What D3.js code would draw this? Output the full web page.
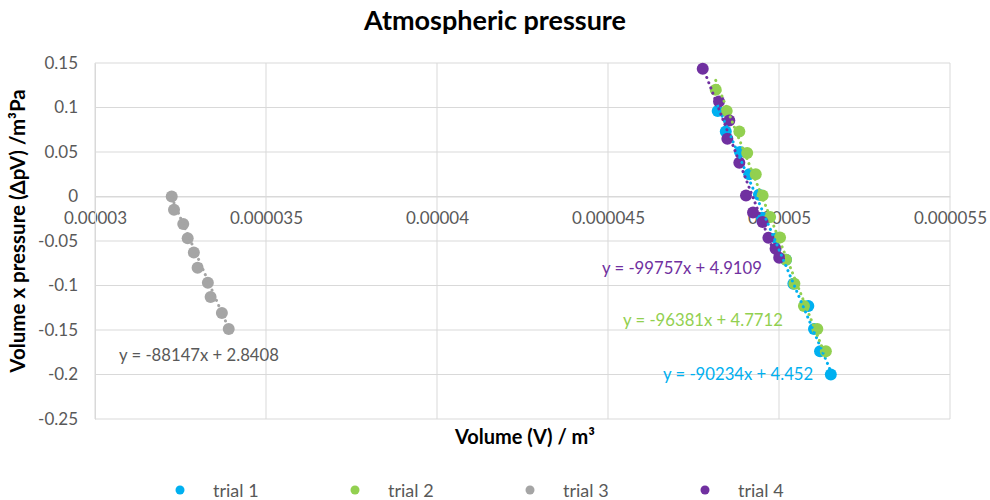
<!DOCTYPE html>
<html>
<head>
<meta charset="utf-8">
<script src="https://cdn.jsdelivr.net/npm/d3@7"></script>
<style>
  body { margin: 0; background: #fff; }
  svg { font-family: Lato, "Open Sans", sans-serif; }
</style>
</head>
<body>
<div id="box"></div>
<script>
// series names and colours
var seriesNames = ["trial 1", "trial 2", "trial 3", "trial 4"];
var seriesColors = ["#00B0F0", "#92D050", "#A5A5A5", "#7030A0"];

// volume (m^3) and volume x pressure values
var trial1X = [4.8208e-5, 4.8444e-5, 4.886e-5, 4.913e-5, 4.9415e-5, 4.9503e-5, 4.993e-5, 5.0205e-5, 5.042e-5, 5.0857e-5, 5.1023e-5, 5.120e-5, 5.1515e-5];
var trial1Y = [0.096, 0.073, 0.050, 0.025, 0.002, -0.024, -0.047, -0.071, -0.098, -0.123, -0.149, -0.174, -0.200];
var trial2X = [4.815e-5, 4.847e-5, 4.884e-5, 4.907e-5, 4.932e-5, 4.952e-5, 4.974e-5, 5.003e-5, 5.0205e-5, 5.045e-5, 5.073e-5, 5.112e-5, 5.137e-5];
var trial2Y = [0.120, 0.096, 0.073, 0.049, 0.025, 0.001, -0.023, -0.046, -0.071, -0.098, -0.123, -0.149, -0.174];
var trial3X = [3.2243e-5, 3.231e-5, 3.258e-5, 3.271e-5, 3.289e-5, 3.300e-5, 3.330e-5, 3.338e-5, 3.371e-5, 3.391e-5];
var trial3Y = [0.000, -0.015, -0.031, -0.047, -0.063, -0.080, -0.097, -0.113, -0.131, -0.149];
var trial4X = [4.777e-5, 4.8246e-5, 4.8547e-5, 4.849e-5, 4.884e-5, 4.9035e-5, 4.924e-5, 4.952e-5, 4.969e-5, 4.990e-5, 5.0006e-5];
var trial4Y = [0.1435, 0.1067, 0.0854, 0.0648, 0.0379, 0.001, -0.018, -0.0287, -0.0464, -0.0588, -0.0689];

// linear trendlines shown on the chart
var trendSlope = [-90234, -96381, -88147, -99757];
var trendIntercept = [4.452, 4.7712, 2.8408, 4.9109];
var trendText = ["y = -90234x + 4.452", "y = -96381x + 4.7712", "y = -88147x + 2.8408", "y = -99757x + 4.9109"];

// axis ticks
var xTicks = [3e-5, 3.5e-5, 4e-5, 4.5e-5, 5e-5, 5.5e-5];
var yTicks = [0.15, 0.1, 0.05, 0, -0.05, -0.1, -0.15, -0.2, -0.25];

var allX = [trial1X, trial2X, trial3X, trial4X];
var allY = [trial1Y, trial2Y, trial3Y, trial4Y];

var width = 990, height = 500;
var svg = d3.select("#box").append("svg")
    .attr("width", width)
    .attr("height", height);

var x = d3.scaleLinear().domain([3e-5, 5.5e-5]).range([95, 950]);
var y = d3.scaleLinear().domain([-0.25, 0.15]).range([419, 63]);

//Gridlines
svg.append("g").selectAll("line").data(yTicks).enter().append("line")
    .attr("x1", x.range()[0]).attr("x2", x.range()[1])
    .attr("y1", function(d){ return y(d); }).attr("y2", function(d){ return y(d); })
    .style("stroke", "#D9D9D9").style("stroke-width", 1);
svg.append("g").selectAll("line").data(xTicks).enter().append("line")
    .attr("x1", function(d){ return x(d); }).attr("x2", function(d){ return x(d); })
    .attr("y1", y.range()[0]).attr("y2", y.range()[1])
    .style("stroke", "#D9D9D9").style("stroke-width", 1);

//Axes
var xAxis = svg.append("g")
    .attr("transform", "translate(0," + y(0) + ")")
    .call(d3.axisBottom(x).tickValues(xTicks).tickSize(0).tickPadding(15)
        .tickFormat(function(d){ return String(parseFloat(d.toFixed(6))); }));
var yAxis = svg.append("g")
    .attr("transform", "translate(" + x.range()[0] + ",0)")
    .call(d3.axisLeft(y).tickValues(yTicks).tickSize(0).tickPadding(17)
        .tickFormat(function(d){ return String(parseFloat(d.toFixed(2))); }));
[xAxis, yAxis].forEach(function(a){
    a.select(".domain").style("stroke", "#D9D9D9");
    a.selectAll("text").style("font-family", "Lato, sans-serif")
        .style("font-size", "17px").style("fill", "#595959");
});

//Markers
seriesNames.forEach(function(name, i){
    svg.append("g").selectAll("circle").data(d3.range(allX[i].length)).enter().append("circle")
        .attr("cx", function(j){ return x(allX[i][j]); })
        .attr("cy", function(j){ return y(allY[i][j]); })
        .attr("r", 6)
        .style("fill", seriesColors[i]);
});

//Trendlines across each series' x range
seriesNames.forEach(function(name, i){
    var ext = d3.extent(allX[i]);
    svg.append("line")
        .attr("x1", x(ext[0])).attr("y1", y(trendSlope[i] * ext[0] + trendIntercept[i]))
        .attr("x2", x(ext[1])).attr("y2", y(trendSlope[i] * ext[1] + trendIntercept[i]))
        .style("stroke", seriesColors[i])
        .style("stroke-width", 3)
        .style("stroke-linecap", "round")
        .style("stroke-dasharray", "0.1 5.5");
});

//Trendline equations
var labelPos = [[663, 380], [623, 326], [119, 361], [602, 274]];
seriesNames.forEach(function(name, i){
    svg.append("text")
        .attr("x", labelPos[i][0]).attr("y", labelPos[i][1])
        .style("font-size", "16.7px")
        .style("fill", i == 2 ? "#595959" : seriesColors[i])
        .text(trendText[i]);
});

//Titles
svg.append("text")
    .attr("x", 495).attr("y", 30)
    .attr("text-anchor", "middle")
    .style("font-size", "27px").style("font-weight", "bold").style("fill", "#000")
    .text("Atmospheric pressure");
svg.append("text")
    .attr("x", 525).attr("y", 444)
    .attr("text-anchor", "middle")
    .style("font-size", "20px").style("font-weight", "bold").style("fill", "#000")
    .text("Volume (V) / m³");
svg.append("text")
    .attr("transform", "translate(25,231) rotate(-90)")
    .attr("text-anchor", "middle")
    .style("font-size", "20.5px").style("font-weight", "bold").style("fill", "#000")
    .text("Volume x pressure (ΔpV) /m³Pa");

//Legend
var legend = svg.append("g").selectAll("g").data(seriesNames).enter().append("g")
    .attr("transform", function(d, i){ return "translate(" + (180 + i * 175) + ",490)"; });
legend.append("circle").attr("r", 4.5)
    .style("fill", function(d, i){ return seriesColors[i]; });
legend.append("text").attr("x", 33).attr("y", 6.5)
    .style("font-size", "18px").style("fill", "#595959")
    .text(function(d){ return d; });
</script>
</body>
</html>
